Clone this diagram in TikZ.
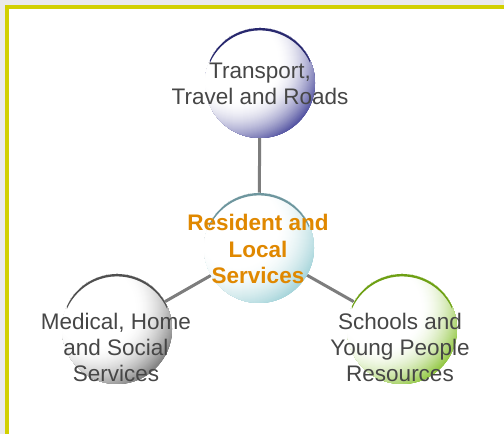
\documentclass[tikz,border=0pt]{standalone}
\usepackage{fontspec}
\usetikzlibrary{calc}
\setmainfont{Liberation Sans}
\definecolor{bggray}{RGB}{234,233,235}
\definecolor{frameyel}{RGB}{210,208,0}
\definecolor{txtgray}{RGB}{70,70,70}
\definecolor{orangetxt}{RGB}{224,136,0}
\definecolor{linkgray}{RGB}{125,125,125}
\definecolor{cblue}{RGB}{72,72,155}
\definecolor{cteal}{RGB}{160,210,216}
\definecolor{cgray}{RGB}{120,120,120}
\definecolor{cgreen}{RGB}{140,196,55}
\definecolor{ablue}{RGB}{40,40,110}
\definecolor{ateal}{RGB}{110,150,158}
\definecolor{agray}{RGB}{80,80,80}
\definecolor{agreen}{RGB}{110,160,20}
\newcommand{\glowball}[3]{% node name, fill colour, arc colour
  \begin{scope}
    \clip (#1.center) circle (55);
    \fill[white] (#1.center) circle (55);
    \foreach \r in {90,89,...,41}{
      \pgfmathsetmacro{\pp}{100*min(1,max(0,(\r-40)/48))^1.8}
      \fill[#2!\pp!white] ($(#1.center)+(-22,22)$) circle (\r);
    }
  \end{scope}
  \fill[#3] ($(#1.center)+(156:55)$) arc[start angle=156, end angle=24, radius=55]
     -- ($(#1.center)+(0,-2.4)+(24:55)$) arc[start angle=24, end angle=156, radius=55] -- cycle;
}
\begin{document}
\begin{tikzpicture}[x=1pt,y=1pt,
  bubble/.style={circle, minimum size=110pt, inner sep=0pt},
  link/.style={draw=linkgray, line width=3pt},
  lbl/.style={align=center, text=txtgray, font=\fontsize{22.5}{26}\selectfont, anchor=base},
  clbl/.style={align=center, text=orangetxt, font=\fontsize{22.5}{26.5}\selectfont\bfseries, anchor=base}]
\useasboundingbox (0,0) rectangle (504,434);
\fill[bggray] (0,0) rectangle (504,434);
\fill[frameyel] (5,0) rectangle (504,429);
\fill[white] (9,0) rectangle (504,425);
% bubbles (named)
\node[bubble] (top) at (260,351) {};
\node[bubble] (mid) at (259,186) {};
\node[bubble] (left) at (117,105) {};
\node[bubble] (right) at (402,105) {};
% connectors
\draw[link] (top.center) -- (mid.center);
\draw[link] (mid.center) -- (left.center);
\draw[link] (mid.center) -- (right.center);
% shaded balls
\glowball{top}{cblue}{ablue}
\glowball{mid}{cteal}{ateal}
\glowball{left}{cgray}{agray}
\glowball{right}{cgreen}{agreen}
% texts
\node[lbl] (ttop) at (260,329) {Transport,\\Travel and Roads};
\node[clbl] (tmid) at (258,150) {Resident and\\Local\\Services};
\node[lbl] (tleft) at (116,52) {Medical, Home\\and Social\\Services};
\node[lbl] (tright) at (400,52) {Schools and\\Young People\\Resources};
\end{tikzpicture}
\end{document}
